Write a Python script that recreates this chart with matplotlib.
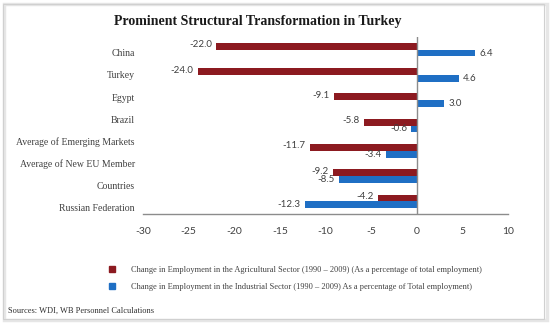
import numpy as np
import matplotlib.pyplot as plt
from matplotlib.patches import Rectangle
from matplotlib.lines import Line2D

# data
groups = ["China", "Turkey", "Egypt", "Brazil", "Average of Emerging Markets",
          "Average of New EU Member Countries", "Russian Federation"]
agri = [-22.0, -24.0, -9.1, -5.8, -11.7, -9.2, -4.2]
indus = [6.4, 4.6, 3.0, -0.6, -3.4, -8.5, -12.3]
# the category labels sit on their own evenly spaced rows in the original
row_labels = ["China", "Turkey", "Egypt", "Brazil", "Average of Emerging Markets",
              "Average of New EU Member", "Countries", "Russian Federation"]
xticks = [-30, -25, -20, -15, -10, -5, 0, 5, 10]

RED = "#8c1a20"
BLUE = "#1f6fc4"
TXT = "#404040"
serif = "Liberation Serif"
sans = "Lato"

fig = plt.figure(figsize=(5.5, 3.24), dpi=100)
ax = fig.add_axes([143 / 550, 1 - 214 / 324, 365 / 550, 177 / 324])

y = np.arange(len(groups))
h = 0.27
ax.barh(y - h / 2, agri, height=h, color=RED, zorder=2)
ax.barh(y + h / 2, indus, height=h, color=BLUE, zorder=2)

# value labels
for yi, v in zip(y - h / 2, agri):
    ax.annotate(f"{v:.1f}", (v, yi), xytext=(-3 if v < 0 else 3, 1), textcoords="offset points",
                ha="right" if v < 0 else "left", va="center", fontsize=7, family=sans, color=TXT, zorder=1)
for yi, v in zip(y + h / 2, indus):
    ax.annotate(f"{v:.1f}", (v, yi), xytext=(-3 if v < 0 else 3, 0), textcoords="offset points",
                ha="right" if v < 0 else "left", va="center", fontsize=7, family=sans, color=TXT, zorder=3)

ax.set_xlim(-30, 10)
ax.set_ylim(len(groups) - 0.5, -0.5)
ax.set_xticks(xticks)
ax.set_xticklabels([str(t) for t in xticks], family=sans, fontsize=7.5, color=TXT)
ax.tick_params(axis="x", length=0, pad=9)
ax.set_yticks([])
for s in ["top", "right", "left"]:
    ax.spines[s].set_visible(False)
ax.spines["bottom"].set_color("#8c8c8c")
ax.spines["bottom"].set_linewidth(1.0)
ax.axvline(0, color="#8c8c8c", lw=1.0, zorder=4)

# category labels on a separate row scale
ax2 = ax.twinx()
ax2.set_ylim((214 - 52) / 22.2, (36 - 52) / 22.2)
ax2.yaxis.tick_left()
ax2.set_yticks(range(len(row_labels)))
ax2.set_yticklabels(row_labels, family=serif, fontsize=7, color=TXT)
ax2.tick_params(axis="y", length=0, pad=6)
for s in ax2.spines.values():
    s.set_visible(False)

fig.text(258 / 550, 1 - 21 / 324, "Prominent Structural Transformation in Turkey",
         ha="center", va="center", family=serif, fontweight="bold", fontsize=10, color="#1a1a1a")

handles = [Line2D([], [], marker="s", ls="", color=RED, markersize=5),
           Line2D([], [], marker="s", ls="", color=BLUE, markersize=5)]
labels = ["Change in Employment in the Agricultural Sector (1990 – 2009) (As a percentage of total employment)",
          "Change in Employment in the Industrial Sector (1990 – 2009) As a percentage of Total employment)"]
fig.legend(handles, labels, loc="upper left", bbox_to_anchor=(104 / 550, 1 - 266 / 324), frameon=False,
           prop={"family": serif, "size": 6}, labelcolor=TXT, handletextpad=1.2, labelspacing=1.1,
           borderaxespad=0, borderpad=0)

fig.text(8 / 550, 1 - 311 / 324, "Sources: WDI, WB Personnel Calculations",
         ha="left", va="center", family=serif, fontsize=6, color="#303030")

# frame around the picture
fig.patches.append(Rectangle((4 / 550, 4 / 324), 543 / 550, 316 / 324, transform=fig.transFigure,
                             fill=False, edgecolor="#e6e6e6", lw=2.5))
fig.patches.append(Rectangle((3 / 550, 5 / 324), 541 / 550, 315 / 324, transform=fig.transFigure,
                             fill=False, edgecolor="#d0d0d0", lw=0.8))

fig.savefig("out.png", dpi=100)
